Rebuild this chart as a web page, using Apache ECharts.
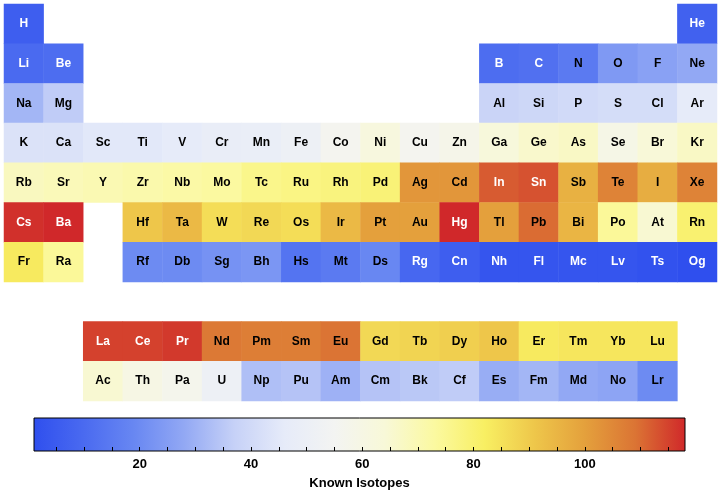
<!DOCTYPE html>
<html><head><meta charset="utf-8">
<script src="https://cdn.jsdelivr.net/npm/echarts@6/dist/echarts.min.js"></script>
<style>html,body{margin:0;padding:0;background:#fff}#c{width:720px;height:494px}</style>
</head><body><div id="c"></div>
<script>
const symbols = ['H','He','Li','Be','B','C','N','O','F','Ne','Na','Mg','Al','Si','P','S','Cl','Ar',
'K','Ca','Sc','Ti','V','Cr','Mn','Fe','Co','Ni','Cu','Zn','Ga','Ge','As','Se','Br','Kr',
'Rb','Sr','Y','Zr','Nb','Mo','Tc','Ru','Rh','Pd','Ag','Cd','In','Sn','Sb','Te','I','Xe',
'Cs','Ba','La','Ce','Pr','Nd','Pm','Sm','Eu','Gd','Tb','Dy','Ho','Er','Tm','Yb','Lu',
'Hf','Ta','W','Re','Os','Ir','Pt','Au','Hg','Tl','Pb','Bi','Po','At','Rn',
'Fr','Ra','Ac','Th','Pa','U','Np','Pu','Am','Cm','Bk','Cf','Es','Fm','Md','No','Lr',
'Rf','Db','Sg','Bh','Hs','Mt','Ds','Rg','Cn','Nh','Fl','Mc','Lv','Ts','Og'];
// table column (1-18) and table row (1-7 periods, 9-10 for f-block rows)
const column = [1,18,1,2,13,14,15,16,17,18,1,2,13,14,15,16,17,18,
1,2,3,4,5,6,7,8,9,10,11,12,13,14,15,16,17,18,
1,2,3,4,5,6,7,8,9,10,11,12,13,14,15,16,17,18,
1,2,3,4,5,6,7,8,9,10,11,12,13,14,15,16,17,
4,5,6,7,8,9,10,11,12,13,14,15,16,17,18,
1,2,3,4,5,6,7,8,9,10,11,12,13,14,15,16,17,
4,5,6,7,8,9,10,11,12,13,14,15,16,17,18];
const tableRow = [1,1,2,2,2,2,2,2,2,2,3,3,3,3,3,3,3,3,
4,4,4,4,4,4,4,4,4,4,4,4,4,4,4,4,4,4,
5,5,5,5,5,5,5,5,5,5,5,5,5,5,5,5,5,5,
6,6,9,9,9,9,9,9,9,9,9,9,9,9,9,9,9,
6,6,6,6,6,6,6,6,6,6,6,6,6,6,6,
7,7,10,10,10,10,10,10,10,10,10,10,10,10,10,10,10,
7,7,7,7,7,7,7,7,7,7,7,7,7,7,7];
const knownIsotopes = [6,7,10,11,11,12,15,24,26,28,31,36,38,39,40,41,41,46,
43,43,45,45,46,48,49,51,56,62,56,58,63,66,67,59,64,67,
68,69,70,71,72,73,76,77,78,79,102,102,112,113,96,106,97,106,
117,118,115,115,116,108,107,107,109,87,88,89,91,83,84,84,84,
91,94,86,87,86,94,100,100,118,100,110,95,74,65,80,
83,74,65,60,57,51,33,34,30,34,35,36,29,31,28,27,20,
20,20,22,23,13,15,19,9,6,3,3,3,3,2,1];
const colorTicks = [20,40,60,80,100];
const minorTicks = [5,10,15,20,25,30,35,40,45,50,55,60,65,70,75,80,85,90,95,100,105,110,115];
const vMin = 1, vMax = 118;
const palette = ['#2f4fee','#4a6af0','#6887f2','#92a8f4','#c6d1f7','#e6ebf9','#f3f4f2',
  '#f8f8d8','#fbf9a0','#f8ef62','#eec64a','#e4a03c','#db7434','#d0282a'];

const cols = Array.from({length:18},(_,i)=>String(i+1));
const rows = Array.from({length:10},(_,i)=>String(i+1));
const FONT = '"Liberation Sans", Arial, Helvetica, sans-serif';

const heat = symbols.map((s,i)=>{
  const v = knownIsotopes[i];
  return {
    value:[column[i]-1, tableRow[i]-1, v],
    name:s,
    label:{color:(v<=12||v>=111)?'#ffffff':'#000000'}
  };
});

const chart = echarts.init(document.getElementById('c'), null, {renderer:'canvas'});
chart.setOption({
  animation:false,
  backgroundColor:'#ffffff',
  grid:[
    {left:4, top:4, width:713, height:397},
    {left:34, top:418, width:651, height:33}
  ],
  xAxis:[
    {type:'category', data:cols, gridIndex:0, show:false},
    {type:'value', gridIndex:1, min:vMin, max:vMax, z:10,
      axisLine:{show:false}, splitLine:{show:false},
      axisTick:{show:true, inside:true, length:4, customValues:minorTicks, lineStyle:{color:'#000', width:1}},
      axisLabel:{customValues:colorTicks, color:'#000', fontFamily:FONT, fontWeight:'bold', fontSize:13, margin:7},
      name:'Known Isotopes', nameLocation:'middle', nameGap:26,
      nameTextStyle:{color:'#000', fontFamily:FONT, fontWeight:'bold', fontSize:13}
    }
  ],
  yAxis:[
    {type:'category', data:rows, gridIndex:0, inverse:true, show:false},
    {type:'value', gridIndex:1, min:0, max:1, show:false}
  ],
  visualMap:{type:'continuous', show:false, min:vMin, max:vMax, seriesIndex:0, dimension:2,
    inRange:{color:palette}},
  series:[
    {type:'heatmap', xAxisIndex:0, yAxisIndex:0, data:heat,
      label:{show:true, formatter:p=>p.name, fontFamily:FONT, fontWeight:'bold', fontSize:12},
      itemStyle:{borderWidth:0},
      emphasis:{disabled:true}
    },
    {type:'custom', xAxisIndex:1, yAxisIndex:1, data:[[vMin,vMax]], silent:true, z:1, zlevel:0,
      renderItem:function(params, api){
        const p0 = api.coord([api.value(0), 1]);
        const p1 = api.coord([api.value(1), 0]);
        return {type:'rect', shape:{x:p0[0], y:p0[1], width:p1[0]-p0[0], height:p1[1]-p0[1]},
          style:{fill:new echarts.graphic.LinearGradient(0,0,1,0,
            palette.map((c,i)=>({offset:i/(palette.length-1), color:c}))),
            stroke:'#000', lineWidth:1}};
      }
    }
  ]
});
</script></body></html>
